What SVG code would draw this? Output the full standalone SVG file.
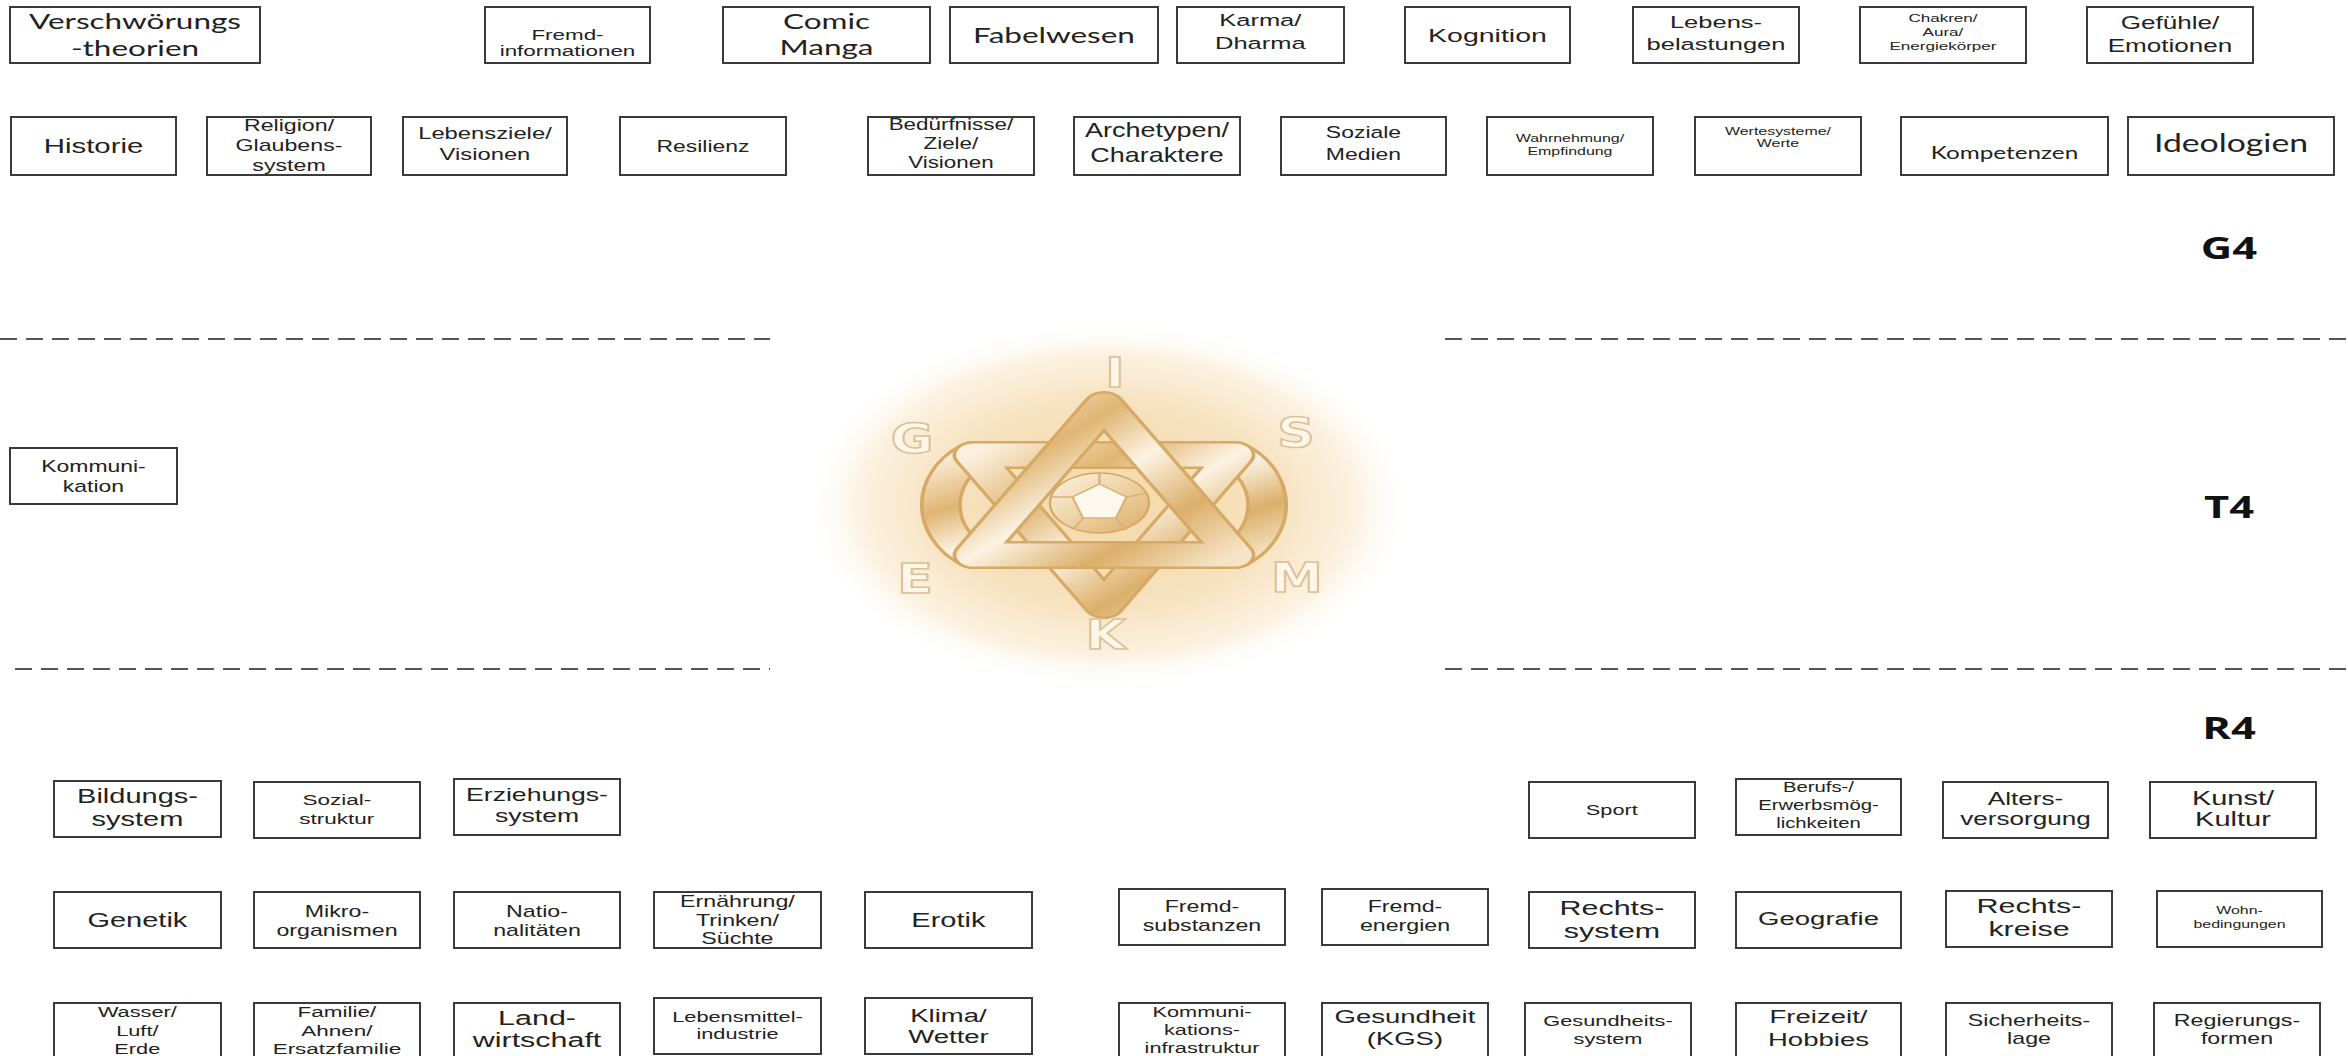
<svg xmlns="http://www.w3.org/2000/svg" width="2348" height="1056" viewBox="0 0 2348 1056">
<style>
.b{fill:#fff;stroke:#3a3a3a;stroke-width:2}
text{fill:#222;text-anchor:middle;font-family:"Liberation Sans",Arial,sans-serif;transform-box:fill-box;transform-origin:center}
.c{font-family:Lato,"Open Sans",sans-serif}
.s135{transform:scaleX(1.35)}
.s140{transform:scaleX(1.4)}
.s145{transform:scaleX(1.45)}
.s150{transform:scaleX(1.5)}
.s155{transform:scaleX(1.55)}
.s160{transform:scaleX(1.6)}
.lbl{font-family:"Open Sans","DejaVu Sans",sans-serif;font-weight:bold;font-size:30px;fill:#111}
.sep{stroke:#555;stroke-width:2;stroke-dasharray:17 9;fill:none}
.lt{font-family:"DejaVu Sans",sans-serif;font-weight:bold;font-size:40px;fill:#fdf7ea;stroke:#dcc096;stroke-width:1.5;transform:scaleX(1.3)}
.rb{fill:none;stroke:#d6aa66;stroke-width:28;stroke-linejoin:round;stroke-linecap:round}
.rg{fill:none;stroke:url(#gold);stroke-width:23;stroke-linejoin:round;stroke-linecap:round}
</style>
<defs>
<radialGradient id="glow" cx="50%" cy="50%" r="50%">
<stop offset="0" stop-color="#f4d8a6"/>
<stop offset="0.55" stop-color="#f7e2bf"/>
<stop offset="0.82" stop-color="#fcf2e2"/>
<stop offset="1" stop-color="#ffffff" stop-opacity="0"/>
</radialGradient>
<linearGradient id="gold" x1="0" y1="0" x2="1" y2="1">
<stop offset="0" stop-color="#fbf0dc"/>
<stop offset="0.28" stop-color="#e0b572"/>
<stop offset="0.5" stop-color="#fcf3e3"/>
<stop offset="0.75" stop-color="#dcaf6a"/>
<stop offset="1" stop-color="#f6e4c6"/>
</linearGradient>
<linearGradient id="gem" x1="0" y1="0" x2="1" y2="1">
<stop offset="0" stop-color="#fcf4e6"/>
<stop offset="0.6" stop-color="#ebcb96"/>
<stop offset="1" stop-color="#d8ab64"/>
</linearGradient>
</defs>
<rect width="2348" height="1056" fill="#fff"/>

<g id="logo">
<ellipse cx="1108" cy="505" rx="305" ry="185" fill="url(#glow)"/>
<g transform="translate(1104,505) scale(1.5,1)">
<path class="rb" d="M-87 -50 C-116 -27 -116 27 -87 50 M87 -50 C116 -27 116 27 87 50"/>
<path class="rg" d="M-87 -50 C-116 -27 -116 27 -87 50 M87 -50 C116 -27 116 27 87 50"/>
<path class="rb" d="M0 100 L-87 -50 L87 -50 Z"/>
<path class="rg" d="M0 100 L-87 -50 L87 -50 Z"/>
<path class="rb" d="M0 -100 L87 50 L-87 50 Z"/>
<path class="rg" d="M0 -100 L87 50 L-87 50 Z"/>
<ellipse cx="-3" cy="-2" rx="33" ry="30" fill="url(#gem)" stroke="#d2a86a" stroke-width="1.5"/>
<polygon points="-3,-21 15,-8 8,13 -14,13 -21,-8" fill="#fdf8ee" stroke="#d8b27a" stroke-width="1.5"/>
<path d="M-3 -21 L-3 -32 M15 -8 L29 -12 M8 13 L15 25 M-14 13 L-20 24 M-21 -8 L-35 -8" stroke="#d8b27a" stroke-width="1.5"/>
</g>
<text class="lt" x="1115" y="387">I</text>
<text class="lt" x="912" y="453">G</text>
<text class="lt" x="1296" y="447">S</text>
<text class="lt" x="915" y="593">E</text>
<text class="lt" x="1297" y="592">M</text>
<text class="lt" x="1106" y="649">K</text>
</g>

<g id="separators">
<line class="sep" x1="0" y1="339" x2="770" y2="339"/>
<line class="sep" x1="1445" y1="339" x2="2348" y2="339"/>
<line class="sep" x1="15" y1="669" x2="770" y2="669"/>
<line class="sep" x1="1445" y1="669" x2="2348" y2="669"/>
</g>

<g id="labels">
<text class="lbl s145" x="2229" y="259">G4</text>
<text class="lbl s145" x="2229" y="518">T4</text>
<text class="lbl s145" x="2229" y="739">R4</text>
</g>

<!-- top row -->
<g id="verschwoerungstheorien"><rect class="b" x="10" y="7" width="250" height="56"/><text class="c s150" font-size="21"><tspan x="135" y="29">Verschwörungs</tspan><tspan x="135" y="56">-theorien</tspan></text></g>
<g id="fremdinformationen"><rect class="b" x="485" y="7" width="165" height="56"/><text class="s160" font-size="14"><tspan x="567.5" y="40">Fremd-</tspan><tspan x="567.5" y="56">informationen</tspan></text></g>
<g id="comic-manga"><rect class="b" x="723" y="7" width="207" height="56"/><text class="c s150" font-size="21"><tspan x="826.5" y="29">Comic</tspan><tspan x="826.5" y="55">Manga</tspan></text></g>
<g id="fabelwesen"><rect class="b" x="950" y="7" width="208" height="56"/><text class="c s150" font-size="21" x="1054" y="43">Fabelwesen</text></g>
<g id="karma-dharma"><rect class="b" x="1177" y="7" width="167" height="56"/><text class="s150" font-size="17"><tspan x="1260.5" y="26">Karma/</tspan><tspan x="1260.5" y="49">Dharma</tspan></text></g>
<g id="kognition"><rect class="b" x="1405" y="7" width="165" height="56"/><text class="s150" font-size="19" x="1487.5" y="42">Kognition</text></g>
<g id="lebensbelastungen"><rect class="b" x="1633" y="7" width="166" height="56"/><text class="s150" font-size="17"><tspan x="1716" y="28">Lebens-</tspan><tspan x="1716" y="50">belastungen</tspan></text></g>
<g id="chakren"><rect class="b" x="1860" y="7" width="166" height="56"/><text class="s155" font-size="11"><tspan x="1943" y="22">Chakren/</tspan><tspan x="1943" y="36">Aura/</tspan><tspan x="1943" y="50">Energiekörper</tspan></text></g>
<g id="gefuehle"><rect class="b" x="2087" y="7" width="166" height="56"/><text class="s145" font-size="18"><tspan x="2170" y="29">Gefühle/</tspan><tspan x="2170" y="52">Emotionen</tspan></text></g>

<!-- second row -->
<g id="historie"><rect class="b" x="11" y="117" width="165" height="58"/><text class="s140" font-size="21" x="93.5" y="153">Historie</text></g>
<g id="religion"><rect class="b" x="207" y="117" width="164" height="58"/><text class="s145" font-size="16"><tspan x="289" y="131">Religion/</tspan><tspan x="289" y="151">Glaubens-</tspan><tspan x="289" y="171">system</tspan></text></g>
<g id="lebensziele"><rect class="b" x="403" y="117" width="164" height="58"/><text class="s140" font-size="17"><tspan x="485" y="139">Lebensziele/</tspan><tspan x="485" y="160">Visionen</tspan></text></g>
<g id="resilienz"><rect class="b" x="620" y="117" width="166" height="58"/><text class="s135" font-size="17" x="703" y="152">Resilienz</text></g>
<g id="beduerfnisse"><rect class="b" x="868" y="117" width="166" height="58"/><text class="s140" font-size="16"><tspan x="951" y="130">Bedürfnisse/</tspan><tspan x="951" y="149">Ziele/</tspan><tspan x="951" y="168">Visionen</tspan></text></g>
<g id="archetypen"><rect class="b" x="1074" y="117" width="166" height="58"/><text class="s135" font-size="20"><tspan x="1157" y="137">Archetypen/</tspan><tspan x="1157" y="162">Charaktere</tspan></text></g>
<g id="soziale-medien"><rect class="b" x="1281" y="117" width="165" height="58"/><text class="s135" font-size="17"><tspan x="1363.5" y="138">Soziale</tspan><tspan x="1363.5" y="160">Medien</tspan></text></g>
<g id="wahrnehmung"><rect class="b" x="1487" y="117" width="166" height="58"/><text class="s145" font-size="11"><tspan x="1570" y="142">Wahrnehmung/</tspan><tspan x="1570" y="155">Empfindung</tspan></text></g>
<g id="wertesysteme"><rect class="b" x="1695" y="117" width="166" height="58"/><text class="s145" font-size="11"><tspan x="1778" y="135">Wertesysteme/</tspan><tspan x="1778" y="147">Werte</tspan></text></g>
<g id="kompetenzen"><rect class="b" x="1901" y="117" width="207" height="58"/><text class="c s135" font-size="18" x="2004.5" y="159">Kompetenzen</text></g>
<g id="ideologien"><rect class="b" x="2128" y="117" width="206" height="58"/><text class="c s135" font-size="25" x="2231" y="152">Ideologien</text></g>

<!-- middle -->
<g id="kommunikation"><rect class="b" x="10" y="448" width="167" height="56"/><text class="s135" font-size="17"><tspan x="93.5" y="472">Kommuni-</tspan><tspan x="93.5" y="492">kation</tspan></text></g>

<!-- row A -->
<g id="bildungssystem"><rect class="b" x="54" y="781" width="167" height="56"/><text class="s145" font-size="20"><tspan x="137.5" y="803">Bildungs-</tspan><tspan x="137.5" y="826">system</tspan></text></g>
<g id="sozialstruktur"><rect class="b" x="254" y="782" width="166" height="56"/><text class="s150" font-size="15"><tspan x="337" y="805">Sozial-</tspan><tspan x="337" y="824">struktur</tspan></text></g>
<g id="erziehungssystem"><rect class="b" x="454" y="779" width="166" height="56"/><text class="s140" font-size="19"><tspan x="537" y="801">Erziehungs-</tspan><tspan x="537" y="822">system</tspan></text></g>
<g id="sport"><rect class="b" x="1529" y="782" width="166" height="56"/><text class="s145" font-size="15" x="1612" y="815">Sport</text></g>
<g id="berufs"><rect class="b" x="1736" y="779" width="165" height="56"/><text class="s145" font-size="14"><tspan x="1818.5" y="792">Berufs-/</tspan><tspan x="1818.5" y="810">Erwerbsmög-</tspan><tspan x="1818.5" y="828">lichkeiten</tspan></text></g>
<g id="altersversorgung"><rect class="b" x="1943" y="782" width="165" height="56"/><text class="s145" font-size="18"><tspan x="2025.5" y="805">Alters-</tspan><tspan x="2025.5" y="825">versorgung</tspan></text></g>
<g id="kunst-kultur"><rect class="b" x="2150" y="782" width="166" height="56"/><text class="s145" font-size="20"><tspan x="2233" y="805">Kunst/</tspan><tspan x="2233" y="826">Kultur</tspan></text></g>

<!-- row B -->
<g id="genetik"><rect class="b" x="54" y="892" width="167" height="56"/><text class="s145" font-size="20" x="137.5" y="927">Genetik</text></g>
<g id="mikroorganismen"><rect class="b" x="254" y="892" width="166" height="56"/><text class="s145" font-size="16"><tspan x="337" y="917">Mikro-</tspan><tspan x="337" y="936">organismen</tspan></text></g>
<g id="nationalitaeten"><rect class="b" x="454" y="892" width="166" height="56"/><text class="s145" font-size="16"><tspan x="537" y="917">Natio-</tspan><tspan x="537" y="936">nalitäten</tspan></text></g>
<g id="ernaehrung"><rect class="b" x="654" y="892" width="167" height="56"/><text class="s145" font-size="16"><tspan x="737.5" y="907">Ernährung/</tspan><tspan x="737.5" y="926">Trinken/</tspan><tspan x="737.5" y="944">Süchte</tspan></text></g>
<g id="erotik"><rect class="b" x="865" y="892" width="167" height="56"/><text class="s145" font-size="20" x="948.5" y="927">Erotik</text></g>
<g id="fremdsubstanzen"><rect class="b" x="1119" y="889" width="166" height="56"/><text class="s145" font-size="16"><tspan x="1202" y="912">Fremd-</tspan><tspan x="1202" y="931">substanzen</tspan></text></g>
<g id="fremdenergien"><rect class="b" x="1322" y="889" width="166" height="56"/><text class="s145" font-size="16"><tspan x="1405" y="912">Fremd-</tspan><tspan x="1405" y="931">energien</tspan></text></g>
<g id="rechtssystem"><rect class="b" x="1529" y="892" width="166" height="56"/><text class="s145" font-size="21"><tspan x="1612" y="915">Rechts-</tspan><tspan x="1612" y="938">system</tspan></text></g>
<g id="geografie"><rect class="b" x="1736" y="892" width="165" height="56"/><text class="s145" font-size="19" x="1818.5" y="925">Geografie</text></g>
<g id="rechtskreise"><rect class="b" x="1946" y="891" width="166" height="56"/><text class="s145" font-size="21"><tspan x="2029" y="913">Rechts-</tspan><tspan x="2029" y="936">kreise</tspan></text></g>
<g id="wohnbedingungen"><rect class="b" x="2157" y="891" width="165" height="56"/><text class="s145" font-size="11"><tspan x="2239.5" y="914">Wohn-</tspan><tspan x="2239.5" y="928">bedingungen</tspan></text></g>

<!-- row C -->
<g id="wasser"><rect class="b" x="54" y="1003" width="167" height="58"/><text class="s145" font-size="15"><tspan x="137.5" y="1017">Wasser/</tspan><tspan x="137.5" y="1036">Luft/</tspan><tspan x="137.5" y="1054">Erde</tspan></text></g>
<g id="familie"><rect class="b" x="254" y="1003" width="166" height="58"/><text class="s150" font-size="15"><tspan x="337" y="1017">Familie/</tspan><tspan x="337" y="1036">Ahnen/</tspan><tspan x="337" y="1054">Ersatzfamilie</tspan></text></g>
<g id="landwirtschaft"><rect class="b" x="454" y="1003" width="166" height="58"/><text class="s145" font-size="21"><tspan x="537" y="1025">Land-</tspan><tspan x="537" y="1047">wirtschaft</tspan></text></g>
<g id="lebensmittelindustrie"><rect class="b" x="654" y="998" width="167" height="56"/><text class="s145" font-size="15"><tspan x="737.5" y="1022">Lebensmittel-</tspan><tspan x="737.5" y="1039">industrie</tspan></text></g>
<g id="klima-wetter"><rect class="b" x="865" y="998" width="167" height="56"/><text class="s145" font-size="19"><tspan x="948.5" y="1022">Klima/</tspan><tspan x="948.5" y="1043">Wetter</tspan></text></g>
<g id="kommunikationsinfrastruktur"><rect class="b" x="1119" y="1003" width="166" height="58"/><text class="s145" font-size="15"><tspan x="1202" y="1017">Kommuni-</tspan><tspan x="1202" y="1035">kations-</tspan><tspan x="1202" y="1053">infrastruktur</tspan></text></g>
<g id="gesundheit-kgs"><rect class="b" x="1322" y="1003" width="166" height="58"/><text class="s145" font-size="19"><tspan x="1405" y="1023">Gesundheit</tspan><tspan x="1405" y="1045">(KGS)</tspan></text></g>
<g id="gesundheitssystem"><rect class="b" x="1525" y="1003" width="166" height="58"/><text class="s145" font-size="15"><tspan x="1608" y="1026">Gesundheits-</tspan><tspan x="1608" y="1044">system</tspan></text></g>
<g id="freizeit-hobbies"><rect class="b" x="1736" y="1003" width="165" height="58"/><text class="s145" font-size="19"><tspan x="1818.5" y="1023">Freizeit/</tspan><tspan x="1818.5" y="1046">Hobbies</tspan></text></g>
<g id="sicherheitslage"><rect class="b" x="1946" y="1003" width="166" height="58"/><text class="s145" font-size="16"><tspan x="2029" y="1026">Sicherheits-</tspan><tspan x="2029" y="1044">lage</tspan></text></g>
<g id="regierungsformen"><rect class="b" x="2154" y="1003" width="166" height="58"/><text class="s145" font-size="16"><tspan x="2237" y="1026">Regierungs-</tspan><tspan x="2237" y="1044">formen</tspan></text></g>
</svg>
